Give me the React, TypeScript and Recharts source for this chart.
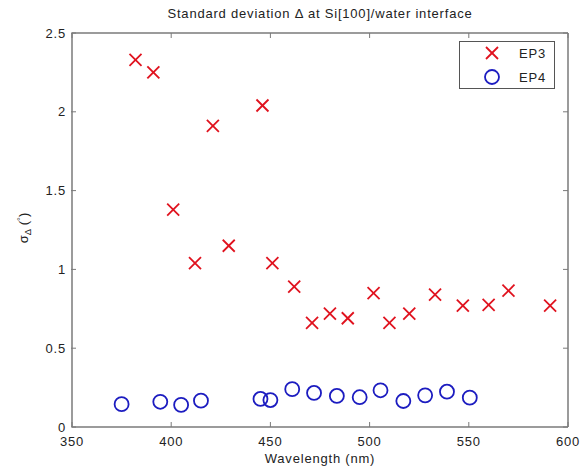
import React from 'react';
import { ScatterChart, Scatter, XAxis, YAxis } from 'recharts';

const EP3_WAVELENGTH = [382, 391, 401, 412, 421, 429, 446, 451, 462, 471, 480, 489, 502, 510, 520, 533, 547, 560, 570, 591];
const EP3_SIGMA = [2.33, 2.25, 1.38, 1.04, 1.91, 1.15, 2.04, 1.04, 0.89, 0.66, 0.72, 0.69, 0.85, 0.66, 0.72, 0.84, 0.77, 0.775, 0.865, 0.77];

const EP4_WAVELENGTH = [375, 394.5, 405, 415, 445, 450, 461, 472, 483.5, 495, 505.5, 517, 528, 539, 550.5];
const EP4_SIGMA = [0.145, 0.16, 0.14, 0.167, 0.178, 0.171, 0.24, 0.216, 0.197, 0.189, 0.233, 0.165, 0.201, 0.224, 0.186];

const X_TICKS = [350, 400, 450, 500, 550, 600];
const Y_TICKS = [0, 0.5, 1, 1.5, 2, 2.5];

const TITLE = 'Standard deviation \u0394 at Si[100]/water interface';
const X_LABEL = 'Wavelength (nm)';

const ep3 = EP3_WAVELENGTH.map((x, i) => ({ x, y: EP3_SIGMA[i] }));
const ep4 = EP4_WAVELENGTH.map((x, i) => ({ x, y: EP4_SIGMA[i] }));

const RED = '#e0121e';
const BLUE = '#1c1cc0';
const AXIS = '#7a7a7a';
const INK = '#222';
const FONT = '"Liberation Sans", Arial, Helvetica, sans-serif';
const FS = 13;
const LS = 0.8;
const TICK_LEN = 5;
const X_TICK_GAP = 14;

const Cross = (props: any) => {
  const { cx, cy } = props;
  const s = 6;
  return (
    <g stroke={RED} strokeWidth={1.8}>
      <line x1={cx - s} y1={cy - s} x2={cx + s} y2={cy + s} />
      <line x1={cx - s} y1={cy + s} x2={cx + s} y2={cy - s} />
    </g>
  );
};

const Ring = (props: any) => {
  const { cx, cy } = props;
  return <circle cx={cx} cy={cy} r={7} fill="none" stroke={BLUE} strokeWidth={1.8} />;
};

// ticks point inward, like matlab
const BottomTick = (props: any) => {
  const { x, y, payload } = props;
  const axisY = y - X_TICK_GAP;
  return (
    <g>
      <line x1={x} x2={x} y1={axisY} y2={axisY - TICK_LEN} stroke={AXIS} />
      <text x={x} y={y} dy="0.35em" textAnchor="middle" fill={INK} fontSize={FS} letterSpacing={LS} fontFamily={FONT}>
        {payload.value}
      </text>
    </g>
  );
};

const LeftTick = (props: any) => {
  const { x, y, payload } = props;
  const axisX = x + 5;
  return (
    <g>
      <line x1={axisX} x2={axisX + TICK_LEN} y1={y} y2={y} stroke={AXIS} />
      <text x={x} y={y} dy="0.35em" textAnchor="end" fill={INK} fontSize={FS} letterSpacing={LS} fontFamily={FONT}>
        {payload.value}
      </text>
    </g>
  );
};

const TopTick = (props: any) => {
  const { x, y } = props;
  return <line x1={x} x2={x} y1={y} y2={y + TICK_LEN} stroke={AXIS} />;
};

const RightTick = (props: any) => {
  const { x, y } = props;
  return <line x1={x} x2={x - TICK_LEN} y1={y} y2={y} stroke={AXIS} />;
};

const LegendBox = () => (
  <g fontFamily={FONT} fontSize={FS} letterSpacing={LS}>
    <rect x={459.5} y={41.5} width={95} height={47} fill="#fff" stroke="#555" />
    <g stroke={RED} strokeWidth={1.8}>
      <line x1={486} y1={47} x2={498} y2={59} />
      <line x1={486} y1={59} x2={498} y2={47} />
    </g>
    <text x={519} y={53} dy="0.35em" fill={INK}>EP3</text>
    <circle cx={492} cy={77} r={7} fill="none" stroke={BLUE} strokeWidth={1.8} />
    <text x={519} y={77} dy="0.35em" fill={INK}>EP4</text>
  </g>
);

const YLabel = () => (
  <text
    x={28}
    y={228}
    transform="rotate(-90, 28, 228)"
    textAnchor="middle"
    fill={INK}
    fontSize={FS}
    fontFamily={FONT}
  >
    <tspan>{'\u03c3'}</tspan>
    <tspan fontSize={9.5} dy={3}>{'\u0394'}</tspan>
    <tspan dy={-3}>{' ('}</tspan>
    <tspan fontSize={9.5} dy={-4}>{'\u00b0'}</tspan>
    <tspan dy={4}>{')'}</tspan>
  </text>
);

export default function App() {
  return (
    <div style={{ position: 'absolute', left: 0, top: 0, background: '#fff' }}>
      <ScatterChart width={587} height={468} margin={{ top: 28, right: 14, bottom: 11, left: 32 }}>
        <XAxis
          xAxisId="b"
          dataKey="x"
          type="number"
          domain={[350, 600]}
          ticks={X_TICKS}
          orientation="bottom"
          height={30}
          tickSize={0}
          tickMargin={X_TICK_GAP}
          tick={<BottomTick />}
          axisLine={{ stroke: AXIS, strokeWidth: 1.5 }}
          tickLine={false}
        />
        <XAxis
          xAxisId="t"
          dataKey="x"
          type="number"
          domain={[350, 600]}
          ticks={X_TICKS}
          orientation="top"
          height={5}
          tickSize={0}
          tickMargin={0}
          tick={<TopTick />}
          axisLine={{ stroke: AXIS, strokeWidth: 1.5 }}
          tickLine={false}
        />
        <YAxis
          yAxisId="l"
          dataKey="y"
          type="number"
          domain={[0, 2.5]}
          ticks={Y_TICKS}
          orientation="left"
          width={40}
          tickSize={0}
          tickMargin={6}
          tick={<LeftTick />}
          axisLine={{ stroke: AXIS, strokeWidth: 1.5 }}
          tickLine={false}
        />
        <YAxis
          yAxisId="r"
          dataKey="y"
          type="number"
          domain={[0, 2.5]}
          ticks={Y_TICKS}
          orientation="right"
          width={5}
          tickSize={0}
          tickMargin={0}
          tick={<RightTick />}
          axisLine={{ stroke: AXIS, strokeWidth: 1.5 }}
          tickLine={false}
        />
        <Scatter name="EP3" data={ep3} xAxisId="b" yAxisId="l" shape={<Cross />} isAnimationActive={false} />
        <Scatter name="EP4" data={ep4} xAxisId="b" yAxisId="l" shape={<Ring />} isAnimationActive={false} />
        <Scatter data={ep4} xAxisId="t" yAxisId="r" shape={() => null} legendType="none" isAnimationActive={false} />
        <LegendBox />
        <text x={320} y={13} dy="0.35em" textAnchor="middle" fill={INK} fontSize={FS} letterSpacing={LS} fontFamily={FONT}>
          {TITLE}
        </text>
        <text x={320} y={458} dy="0.35em" textAnchor="middle" fill={INK} fontSize={FS} letterSpacing={LS} fontFamily={FONT}>
          {X_LABEL}
        </text>
        <YLabel />
      </ScatterChart>
    </div>
  );
}
